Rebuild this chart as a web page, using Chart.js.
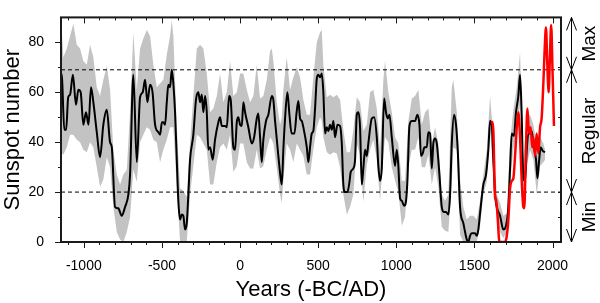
<!DOCTYPE html>
<html>
<head>
<meta charset="utf-8">
<script src="https://cdn.jsdelivr.net/npm/chart.js@4.4.1/dist/chart.umd.min.js"></script>
<style>
  html, body { margin: 0; padding: 0; background: #fff; }
  #wrap { width: 600px; height: 303px; }
</style>
</head>
<body>
<div id="wrap"><canvas id="sunChart" width="600" height="303"></canvas></div>
<script>
// reconstructed sunspot number (black line)
const years = [
  -1150,-1140,-1125,-1113,-1100,-1088,-1070,-1050,-1035,-1020,
  -1003,-986,-970,-954,-939,-917,-896,-875,-853,-832,
  -821,-800,-779,-758,-736,-715,-704,-683,-661,-640,
  -623,-608,-593,-576,-560,-544,-523,-512,-500,-491,
  -480,-469,-459,-448,-437,-427,-416,-405,-395,-384,
  -373,-363,-352,-341,-331,-320,-299,-282,-267,-256,
  -245,-235,-224,-213,-203,-192,-175,-160,-139,-128,
  -117,-96,-85,-70,-60,-43,-32,-21,-11,0,
  11,21,32,53,75,90,107,117,128,139,
  149,166,181,203,213,224,245,260,267,277,
  288,303,316,330,348,362,373,384,395,405,
  427,437,448,459,469,480,491,501,512,523,
  533,544,555,565,576,587,597,608,623,640,
  651,661,672,687,700,708,725,736,747,757,
  768,779,789,800,811,821,843,858,875,885,
  896,907,922,934,945,956,971,992,1003,1013,
  1024,1035,1050,1060,1071,1084,1099,1120,1135,1148,
  1158,1169,1180,1195,1205,1216,1227,1237,1248,1259,
  1276,1291,1306,1318,1333,1344,1355,1370,1382,1393,
  1408,1429,1451,1461,1472,1483,1504,1515,1525,1536,
  1557,1574,1589,1600,1611,1621,1632,1643,1664,1685,
  1702,1717,1728,1739,1753,1766,1781,1792,1802,1813,
  1824,1835,1845,1856,1866,1877,1894,1903,1913,1924,
  1937,1952
];
const sunspots = [
  68,66,45,45,58,59,67,55,61,60,
  47,52,47,62,56,44,34,47,53,40,
  38,14,13.5,10.5,14,19,27,67,32,58,
  60,65,56,63,60,47,44,43,48,48,
  47,56,63,62,69,63.5,52,33,16.5,9,
  11,10.5,5,7.5,19,33,43,57,60,56,
  59,52,58.5,52,37,38,33,41,48,50,
  46.5,46.5,46,58.5,57,38,37,48,50,47,
  46.5,56,52,46,39.5,42,49.5,51.5,42,32,
  41,48.5,51,58.5,57,48.5,34.5,25.5,23,37,
  49.5,60,51,43.5,43.5,52,56.5,49.5,48.5,46,
  38,32,38,43.5,44.5,53.5,65.5,67,66,67.5,
  60,43.5,46,44.5,47,45,48.5,42,47,46.5,
  39.5,23,20,20,24,28,29.5,33,51,52,
  46,23,29.5,37,34.5,39.5,49.5,50,42,30.5,
  24.5,29.5,57.5,52,49.5,51,42,30.5,37,30.5,
  17.5,16.5,14.5,15.5,24.5,46.5,48.5,48.5,51,47,
  34.5,35.5,38,38,44,43.5,29.5,39.5,41.5,39.5,
  27,14,12,12,11,19,39.5,51,47,37,
  14,7.5,1,0,2.5,3.5,3.5,2.5,5,11.5,
  23,27,37,48.5,47,33,19,14,10.5,5,
  6.5,14,29.5,43.5,42.5,52,58.5,67,52,25.5,
  24.5,37,43.5,43.5,44.5,39.5,33,25.5,32,38,
  36.5,36
];

// uncertainty band (grey)
const bandYears = [
  -1146,-1131,-1109,-1088,-1067,-1045,-1024,-1003,-981,-960,
  -939,-917,-896,-875,-853,-832,-811,-789,-768,-747,
  -725,-704,-683,-661,-640,-619,-597,-576,-555,-533,
  -512,-491,-469,-448,-437,-427,-405,-384,-363,-341,
  -320,-299,-277,-256,-235,-213,-192,-171,-149,-128,
  -107,-85,-64,-43,-21,0,21,43,64,85,107,
  128,149,171,192,203,213,235,256,267,277,
  299,320,341,363,384,405,427,448,469,491,
  512,523,533,555,576,597,619,640,661,683,
  704,725,747,
  768,789,811,832,853,875,896,917,928,949,
  971,992,1013,1035,1056,1077,1099,1120,1141,1163,
  1184,1205,1227,1248,1269,1291,1312,1333,1355,1365,1387,
  1408,1429,1451,1472,1493,1515,1536,1557,1579,1600,
  1621,1643,1664,1685,1707,1728,1749,1771,1792,1813,
  1835,1856,1877,1899,1920,1941,1952
];
const bandHigh = [
  90,74,77.5,82.5,87.5,79,77.5,72.5,71,79,
  74,62,58.5,65,70.5,61,37,27,23,27,
  29,52,84,61,77.5,81.5,85,82.5,71,62,
  63.5,65,75,82.5,89,82.5,46,21.5,20.5,18,
  39.5,58.5,77.5,79,77.5,67.5,52,53.5,58.5,67.5,
  56,60,72.5,58.5,60,67.5,67.5,61,56,58.5,71,
  57.5,58.5,65,76.5,77.5,72.5,56,47,50,61,
  74,61,66,70,66,57,51,51,66,80,
  84,85,71,58,59,58,59,57,45,36,
  36,45,58,
  56,44.5,47,60,61,53.5,37,65,72.5,60,
  52,42,39.5,24.5,24.5,48.5,57.5,58.5,61,47,
  52,53.5,39.5,46,39.5,19,16.5,19,62,65,52,
  25,14,9,10.5,10.5,9,16.5,27,37,58.5,
  42,19,15.5,10.5,11.5,40,53,62,76,33,
  49.5,51,47,39.5,42,39.5,37
];
const bandLow = [
  36,35,38,43,43,41,40,37,36,40,
  38,30,22,25,34,30,14,4,1,0,
  4,10,29,24,40,43,46,45,41,40,
  32,37,41,46,46,46,22,0,0,0,
  19,30.5,43,42,39.5,37,23,23,32,38,
  39.5,37,43,28,30.5,39.5,39.5,32,29.5,29.5,37,
  29.5,30.5,37,42,41,39.5,29.5,19,15.5,24.5,
  39.5,37,32,39.5,37,34.5,27,27,37,46,
  50,48.5,42,36,35,36,35.5,30,19,11,
  14,19,39.5,
  35,16,31,37,41,33,16.5,35,42,40,
  30,24.5,20,6.5,10,30,37,37,42,30,
  30,35,23,30,22,6,4.5,4,24,38,37,
  3,0,0,0,0,0,6.5,19,24,44.5,
  27,9,4,1.5,4,24,37,44,55,19,
  30.5,37,33,19,30.5,32,33
];

// observed (telescope) sunspot number, red
const obsYears = [
  1611,1621,1632,1638,1647,1660,1675,1696,1707,1717,
  1728,1739,1749,1760,1771,1781,1792,1802,1813,1819,
  1828,1839,1849,1860,1870,1877,1888,1898,1909,1920,
  1930,1941,1950,1958,1966,1975,1983,1991,2000,2009
];
const observed = [
  48.5,44.5,18,17,11.5,0,0,0,2.5,9,
  21.5,24.5,25.5,34.5,46,52,42,25.5,14,13.5,
  33,53.5,43.5,46,38,42,34.5,43.5,35.5,46,
  49.5,63.5,78,86,72,60,74,87,68,46.5
];

const levels = [20, 69];          // Min / Regular / Max limits
const zoneNames = ['Min', 'Regular', 'Max'];
const xRange = [-1146, 2054];
const yRange = [0, 90];
const xTicks = [-1000, -500, 0, 500, 1000, 1500, 2000];
const yTicks = [0, 20, 40, 60, 80];

const FONT = "'Liberation Sans', Arial, sans-serif";

function pts(xs, ys) {
  return xs.map((v, i) => ({ x: v, y: ys[i] }));
}

const decor = {
  id: 'decor',
  afterDraw(chart) {
    const { ctx, chartArea: a, scales: { x, y } } = chart;
    const seg = (x1, y1, x2, y2) => {
      ctx.beginPath(); ctx.moveTo(x1, y1); ctx.lineTo(x2, y2); ctx.stroke();
    };
    ctx.save();
    ctx.strokeStyle = '#1a1a1a';
    ctx.lineWidth = 1;

    // year ticks, bottom outward and top inward
    for (let yr = -1100; yr <= 2000; yr += 100) {
      const px = Math.round(x.getPixelForValue(yr)) + 0.5;
      const len = yr % 500 === 0 ? 6 : 3;
      seg(px, a.bottom, px, a.bottom + len);
      seg(px, a.top, px, a.top + len);
    }
    // value ticks, left outward and right inward
    for (let v = 0; v < 90; v += 10) {
      const py = Math.round(y.getPixelForValue(v)) + 0.5;
      seg(a.left, py, a.left - (v % 20 === 0 ? 6 : 3), py);
      if (v > 0) seg(a.right, py, a.right - 3, py);
    }

    ctx.lineWidth = 2;
    ctx.strokeRect(a.left, a.top, a.right - a.left, a.bottom - a.top);

    // zone arrows on the right
    const ax = a.right + 10.5;
    const bounds = [yRange[0], ...levels, yRange[1]];
    const pix = bounds.map(v => y.getPixelForValue(v));
    ctx.lineWidth = 1;
    ctx.strokeStyle = '#000';
    seg(ax, pix[pix.length - 1], ax, pix[0]);
    const head = (tip, dir) => {
      ctx.beginPath();
      ctx.moveTo(ax - 5, tip - dir * 13);
      ctx.lineTo(ax, tip);
      ctx.lineTo(ax + 5, tip - dir * 13);
      ctx.stroke();
    };
    for (let i = 0; i < zoneNames.length; i++) {
      head(pix[i], 1);        // pointing down
      head(pix[i + 1], -1);   // pointing up
    }

    ctx.fillStyle = '#000';
    ctx.font = '19px ' + FONT;
    ctx.textAlign = 'center';
    ctx.textBaseline = 'alphabetic';
    zoneNames.forEach((name, i) => {
      const cy = (pix[i] + pix[i + 1]) / 2;
      ctx.save();
      ctx.translate(595, cy);
      ctx.rotate(-Math.PI / 2);
      ctx.fillText(name, 0, 0);
      ctx.restore();
    });
    ctx.restore();
  }
};

const ctx = document.getElementById('sunChart').getContext('2d');
const sunChart = new Chart(ctx, {
  type: 'line',
  data: {
    datasets: [
      {
        label: 'Observed',
        data: pts(obsYears, observed),
        borderColor: '#ff0000',
        borderWidth: 2.5,
        pointRadius: 0,
        cubicInterpolationMode: 'monotone',
        fill: false
      },
      {
        label: 'Reconstruction',
        data: pts(years, sunspots),
        borderColor: '#000000',
        borderWidth: 2,
        pointRadius: 0,
        cubicInterpolationMode: 'monotone',
        fill: false
      },
      ...levels.map(lv => ({
        label: 'level ' + lv,
        data: pts(xRange, [lv, lv]),
        borderColor: '#000000',
        borderWidth: 1,
        borderDash: [4, 3],
        pointRadius: 0,
        fill: false
      })),
      {
        label: 'upper',
        data: pts(bandYears, bandHigh),
        borderWidth: 0,
        borderColor: 'rgba(0,0,0,0)',
        backgroundColor: '#c3c3c3',
        pointRadius: 0,
        fill: '+1'
      },
      {
        label: 'lower',
        data: pts(bandYears, bandLow),
        borderWidth: 0,
        borderColor: 'rgba(0,0,0,0)',
        pointRadius: 0,
        fill: false
      }
    ]
  },
  options: {
    responsive: false,
    animation: false,
    events: [],
    layout: {
      padding: { top: 5, right: 39, left: 0, bottom: 0 }
    },
    plugins: {
      legend: { display: false },
      tooltip: { enabled: false }
    },
    scales: {
      x: {
        type: 'linear',
        min: xRange[0],
        max: xRange[1],
        grid: { display: false },
        border: { display: false },
        afterBuildTicks: s => { s.ticks = xTicks.map(v => ({ value: v })); },
        afterFit: s => { s.height = 61; },
        ticks: {
          color: '#000',
          font: { family: FONT, size: 14 },
          padding: 8,
          maxRotation: 0,
          autoSkip: false,
          callback: v => String(v)
        },
        title: {
          display: true,
          text: 'Years (-BC/AD)',
          color: '#000',
          font: { family: FONT, size: 22 },
          padding: { top: 0, bottom: 0 }
        }
      },
      y: {
        min: yRange[0],
        max: yRange[1],
        grid: { display: false },
        border: { display: false },
        afterBuildTicks: s => { s.ticks = yTicks.map(v => ({ value: v })); },
        afterFit: s => { s.width = 61; },
        ticks: {
          color: '#000',
          font: { family: FONT, size: 14 },
          padding: 9,
          callback: v => String(v)
        },
        title: {
          display: true,
          text: 'Sunspot number',
          color: '#000',
          font: { family: FONT, size: 22 },
          padding: { top: 0, bottom: 0 }
        }
      }
    }
  },
  plugins: [decor]
});
</script>
</body>
</html>
